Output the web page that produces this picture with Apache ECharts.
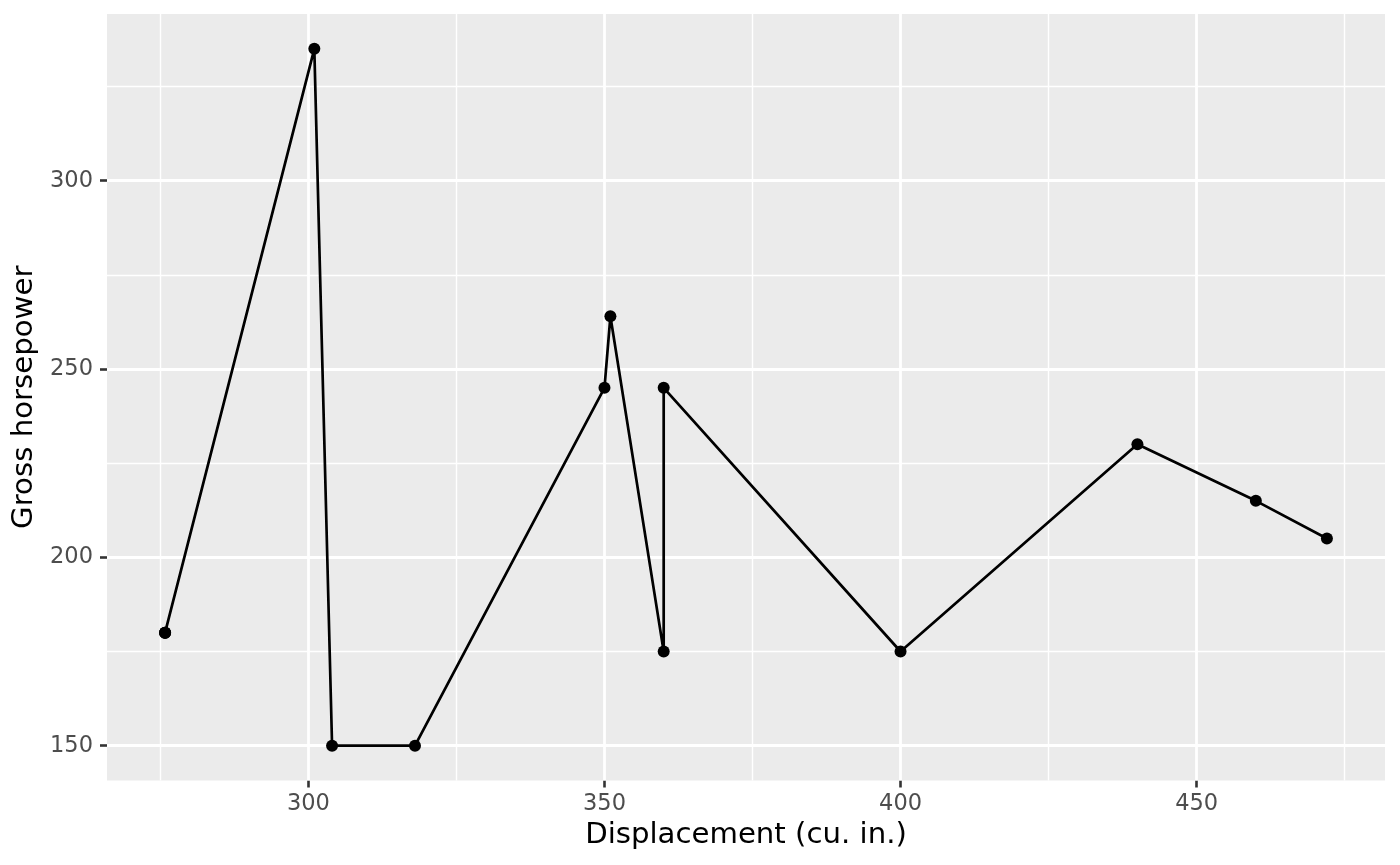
<!DOCTYPE html>
<html>
<head>
<meta charset="utf-8">
<title>Gross horsepower vs displacement</title>
<script src="https://cdn.jsdelivr.net/npm/echarts@6/dist/echarts.min.js"></script>
<style>
    html, body { margin: 0; padding: 0; background: #fff; }
    #chart { width: 1400px; height: 865px; }
</style>
</head>
<body>
<div id="chart"></div>
<script>
// displacement (cu. in.) and gross hp, sorted by displacement
var disp = [275.8, 275.8, 275.8, 301, 304, 318, 350, 351, 360, 360, 400, 440, 460, 472];
var hp = [180, 180, 180, 335, 150, 150, 245, 264, 175, 245, 175, 230, 215, 205];

var xMajor = [300, 350, 400, 450];
var xMinor = [275, 325, 375, 425, 475];
var yMajor = [150, 200, 250, 300];
var yMinor = [175, 225, 275, 325];

// ggplot style 5% expansion
function expand(arr){
    var lo = Math.min.apply(null, arr);
    var hi = Math.max.apply(null, arr);
    var pad = (hi - lo) * 0.05;
    return [lo - pad, hi + pad];
}
var xr = expand(disp);
var yr = expand(hp);

var points = [];
for(var i = 0; i < disp.length; i ++){
    points.push([disp[i], hp[i]]);
}

function gridLines(xs, ys){
    var out = [];
    for(var i = 0; i < xs.length; i ++) out.push({xAxis: xs[i]});
    for(var j = 0; j < ys.length; j ++) out.push({yAxis: ys[j]});
    return out;
}

var tickStyle = {
    show: true,
    inside: false,
    length: 7,
    lineStyle: { color: '#333333', width: 2.6 }
};
var labelStyle = {
    color: '#4D4D4D',
    fontSize: 22.5,
    fontFamily: 'DejaVu Sans'
};
var titleStyle = { color: '#000', fontSize: 29.2, fontFamily: 'DejaVu Sans' };

var myChart = echarts.init(document.getElementById('chart'));
var option = {
    animation: false,
    backgroundColor: '#ffffff',
    grid: {
        show: true,
        left: 107,
        right: 15,
        top: 14,
        bottom: 84.5,
        backgroundColor: '#EBEBEB',
        borderWidth: 0
    },
    xAxis: {
        type: 'value',
        min: xr[0],
        max: xr[1],
        name: 'Displacement (cu. in.)',
        nameLocation: 'middle',
        nameGap: 40,
        nameTextStyle: titleStyle,
        axisLine: { show: false },
        axisTick: Object.assign({ customValues: xMajor }, tickStyle),
        axisLabel: Object.assign({ customValues: xMajor, margin: 12 }, labelStyle),
        splitLine: { show: false }
    },
    yAxis: {
        type: 'value',
        min: yr[0],
        max: yr[1],
        name: 'Gross horsepower',
        nameLocation: 'middle',
        nameGap: 66,
        nameTextStyle: titleStyle,
        axisLine: { show: false },
        axisTick: Object.assign({ customValues: yMajor }, tickStyle),
        axisLabel: Object.assign({ customValues: yMajor, margin: 14 }, labelStyle),
        splitLine: { show: false }
    },
    series: [
        {
            name: 'minor',
            type: 'line',
            data: [],
            z: 1,
            silent: true,
            markLine: {
                silent: true,
                symbol: 'none',
                animation: false,
                label: { show: false },
                emphasis: { disabled: true },
                lineStyle: { color: '#ffffff', width: 1.4, type: 'solid' },
                data: gridLines(xMinor, yMinor)
            }
        },
        {
            name: 'major',
            type: 'line',
            data: [],
            z: 1,
            silent: true,
            markLine: {
                silent: true,
                symbol: 'none',
                animation: false,
                label: { show: false },
                emphasis: { disabled: true },
                lineStyle: { color: '#ffffff', width: 2.8, type: 'solid' },
                data: gridLines(xMajor, yMajor)
            }
        },
        {
            name: 'hp',
            type: 'line',
            z: 5,
            data: points,
            symbol: 'circle',
            symbolSize: 12,
            showAllSymbol: true,
            itemStyle: { color: '#000000' },
            lineStyle: { color: '#000000', width: 2.7 }
        }
    ]
};
myChart.setOption(option);
</script>
</body>
</html>
